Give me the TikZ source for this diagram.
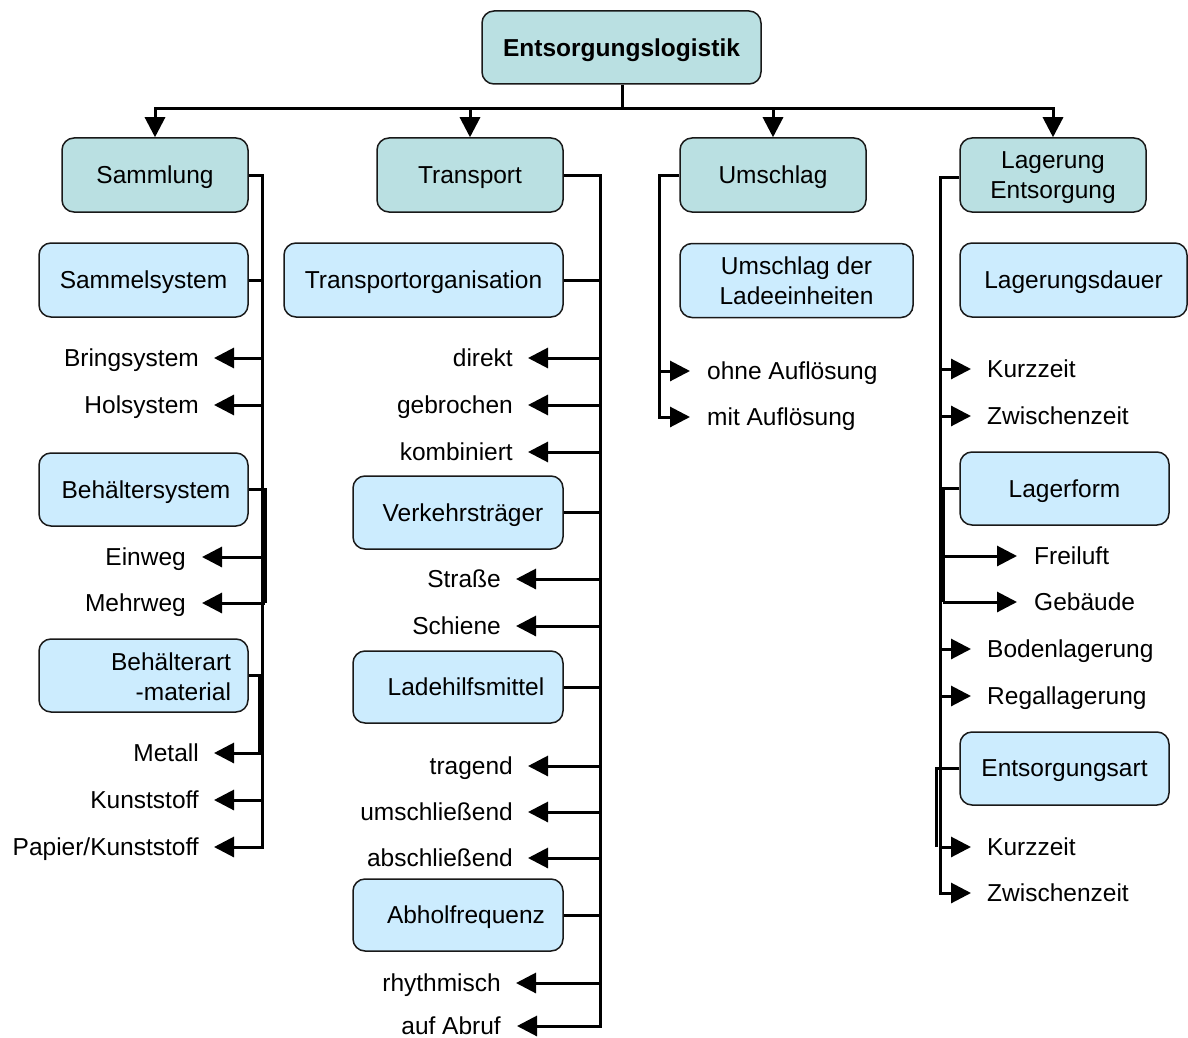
\documentclass[tikz,border=0pt]{standalone}
\usepackage{fontspec}
\setmainfont{Liberation Sans}
\usetikzlibrary{arrows.meta}

\definecolor{headfill}{RGB}{186,224,226}
\definecolor{subfill}{RGB}{204,236,254}
\definecolor{edgegray}{RGB}{25,25,25}

\tikzset{
  box/.style={draw=edgegray, line width=1.5pt, rounded corners=12pt, inner sep=0pt,
              align=center, text depth=0pt, font=\fontsize{24.5}{30}\selectfont},
  headbox/.style={box, fill=headfill},
  subbox/.style={box, fill=subfill},
  leaf/.style={inner sep=0pt, text height=17.5pt, text depth=0pt,
               font=\fontsize{24.5}{30}\selectfont},
  conn/.style={line width=3pt, draw=black},
  arr/.style={conn, -{Triangle[length=20pt,width=20pt]}},
}

\begin{document}
\begin{tikzpicture}[x=1pt,y=-1pt]
\useasboundingbox (0,0) rectangle (1188,1038);
\fill[white] (0,0) rectangle (1188,1038);

% root and first level
\node[headbox, font=\fontsize{24.5}{30}\selectfont\bfseries, minimum width=279pt, minimum height=73pt]
  (root) at (621.5,47.5) {Entsorgungslogistik};
\node[headbox, minimum width=186pt, minimum height=74pt] (samm) at (155,175) {Sammlung};
\node[headbox, minimum width=186pt, minimum height=74pt] (trans) at (470,175) {Transport};
\node[headbox, minimum width=186pt, minimum height=74pt] (umsch) at (773,175) {Umschlag};
\node[headbox, minimum width=186pt, minimum height=74pt] (lager) at (1053,175) {Lagerung\\Entsorgung};

% top distribution bar
\coordinate (hub) at (622,109);
\draw[conn] (root.south -| hub) -- (hub);
\draw[conn, line cap=rect] (samm.north |- hub) -- (lager.north |- hub);
\foreach \n in {samm,trans,umsch,lager}
  \draw[arr] (\n.north |- hub) -- (\n.north);

% ---------- Sammlung ----------
\coordinate (tS) at (262,0);
\coordinate (tS2) at (265,0);
\coordinate (tS3) at (259,0);
\node[subbox, minimum width=209pt, minimum height=74pt] (sammsys) at (143.5,280) {Sammelsystem};
\node[subbox, minimum width=209pt, minimum height=73pt] (behsys) at (143.5,489.5) {\hspace*{5pt}Behältersystem};
\node[subbox, minimum width=209pt, minimum height=73pt, inner xsep=17pt, text width=175pt,
      align=right, text depth=27pt]
  (behart) at (143.5,675.5) {Behälterart\\-material};

\node[leaf, anchor=east] (bring) at (199,358) {Bringsystem};
\node[leaf, anchor=east] (hol) at (199,405) {Holsystem};
\node[leaf, anchor=east] (einweg) at (186,557) {Einweg};
\node[leaf, anchor=east] (mehrweg) at (186,603) {Mehrweg};
\node[leaf, anchor=east] (metall) at (199,753) {Metall};
\node[leaf, anchor=east] (kunst) at (199,800) {Kunststoff};
\node[leaf, anchor=east] (papier) at (199,847) {Papier/Kunststoff};

\draw[arr] (samm.east) -| (papier.east -| tS) -- ([xshift=15pt]papier.east);
\draw[conn] (sammsys.east) -- (sammsys.east -| tS);
\draw[conn] (behsys.east) -| (mehrweg.east -| tS2);
\draw[conn] (behart.east) -| (metall.east -| tS3);
\foreach \n in {bring,hol,metall,kunst}
  \draw[arr] (\n.east -| tS) -- ([xshift=15pt]\n.east);
\foreach \n in {einweg,mehrweg}
  \draw[arr] (\n.east -| tS2) -- ([xshift=16pt]\n.east);

% ---------- Transport ----------
\coordinate (tT) at (600,0);
\node[subbox, minimum width=279pt, minimum height=74pt] (torg) at (423.5,280) {Transportorganisation};
\node[subbox, minimum width=210pt, minimum height=73pt] (verk) at (458,512.5) {\hspace*{10pt}Verkehrsträger};
\node[subbox, minimum width=210pt, minimum height=72pt] (lade) at (458,687) {\hspace*{16pt}Ladehilfsmittel};
\node[subbox, minimum width=210pt, minimum height=72pt] (abhol) at (458,915) {\hspace*{16pt}Abholfrequenz};

\node[leaf, anchor=east] (direkt) at (513,358) {direkt};
\node[leaf, anchor=east] (gebr) at (513,405) {gebrochen};
\node[leaf, anchor=east] (komb) at (513,452) {kombiniert};
\node[leaf, anchor=east] (strasse) at (501,579) {Straße};
\node[leaf, anchor=east] (schiene) at (501,626) {Schiene};
\node[leaf, anchor=east] (tragend) at (513,766) {tragend};
\node[leaf, anchor=east] (umschl) at (513,812) {umschließend};
\node[leaf, anchor=east] (abschl) at (513,858) {abschließend};
\node[leaf, anchor=east] (rhythm) at (501,983) {rhythmisch};
\node[leaf, anchor=east] (abruf) at (501,1026) {auf Abruf};

\draw[arr] (trans.east) -| (abruf.east -| tT) -- ([xshift=16pt]abruf.east);
\foreach \n in {torg,verk,lade,abhol}
  \draw[conn] (\n.east) -- (\n.east -| tT);
\foreach \n in {direkt,gebr,komb,strasse,schiene,tragend,umschl,abschl,rhythm}
  \draw[arr] (\n.east -| tT) -- ([xshift=15pt]\n.east);

% ---------- Umschlag ----------
\coordinate (tU) at (659,0);
\node[subbox, minimum width=233pt, minimum height=74pt] (ladeein) at (796.5,280.5) {Umschlag der\\Ladeeinheiten};
\node[leaf, anchor=west] (ohne) at (707,371) {ohne Auflösung};
\node[leaf, anchor=west] (mit) at (707,417) {mit Auflösung};
\draw[arr] (umsch.west) -| (mit.west -| tU) -- ([xshift=-17pt]mit.west);
\draw[arr] (ohne.west -| tU) -- ([xshift=-17pt]ohne.west);

% ---------- Lagerung ----------
\coordinate (tL) at (940,0);
\coordinate (tL2) at (943,0);
\coordinate (tL3) at (936.5,0);
\node[subbox, minimum width=227pt, minimum height=74pt] (dauer) at (1073.5,280) {Lagerungsdauer};
\node[subbox, minimum width=209pt, minimum height=73pt] (lform) at (1064.5,488.5) {Lagerform};
\node[subbox, minimum width=209pt, minimum height=73pt] (eart) at (1064.5,768.5) {Entsorgungsart};

\node[leaf, anchor=west] (kurz1) at (987,369) {Kurzzeit};
\node[leaf, anchor=west] (zw1) at (987,416) {Zwischenzeit};
\node[leaf, anchor=west] (frei) at (1034,556) {Freiluft};
\node[leaf, anchor=west] (geb) at (1034,602) {Gebäude};
\node[leaf, anchor=west] (boden) at (987,649) {Bodenlagerung};
\node[leaf, anchor=west] (regal) at (987,696) {Regallagerung};
\node[leaf, anchor=west] (kurz2) at (987,847) {Kurzzeit};
\node[leaf, anchor=west] (zw2) at (987,893) {Zwischenzeit};

\draw[arr] ([yshift=-2pt]lager.west) -| (zw2.west -| tL) -- ([xshift=-16pt]zw2.west);
\draw[conn] (lform.west) -| (geb.west -| tL2);
\draw[conn] (eart.west) -| (kurz2.west -| tL3);
\foreach \n in {kurz1,zw1,boden,regal,kurz2}
  \draw[arr] (\n.west -| tL) -- ([xshift=-16pt]\n.west);
\foreach \n in {frei,geb}
  \draw[arr] (\n.west -| tL2) -- ([xshift=-17pt]\n.west);
\end{tikzpicture}
\end{document}
